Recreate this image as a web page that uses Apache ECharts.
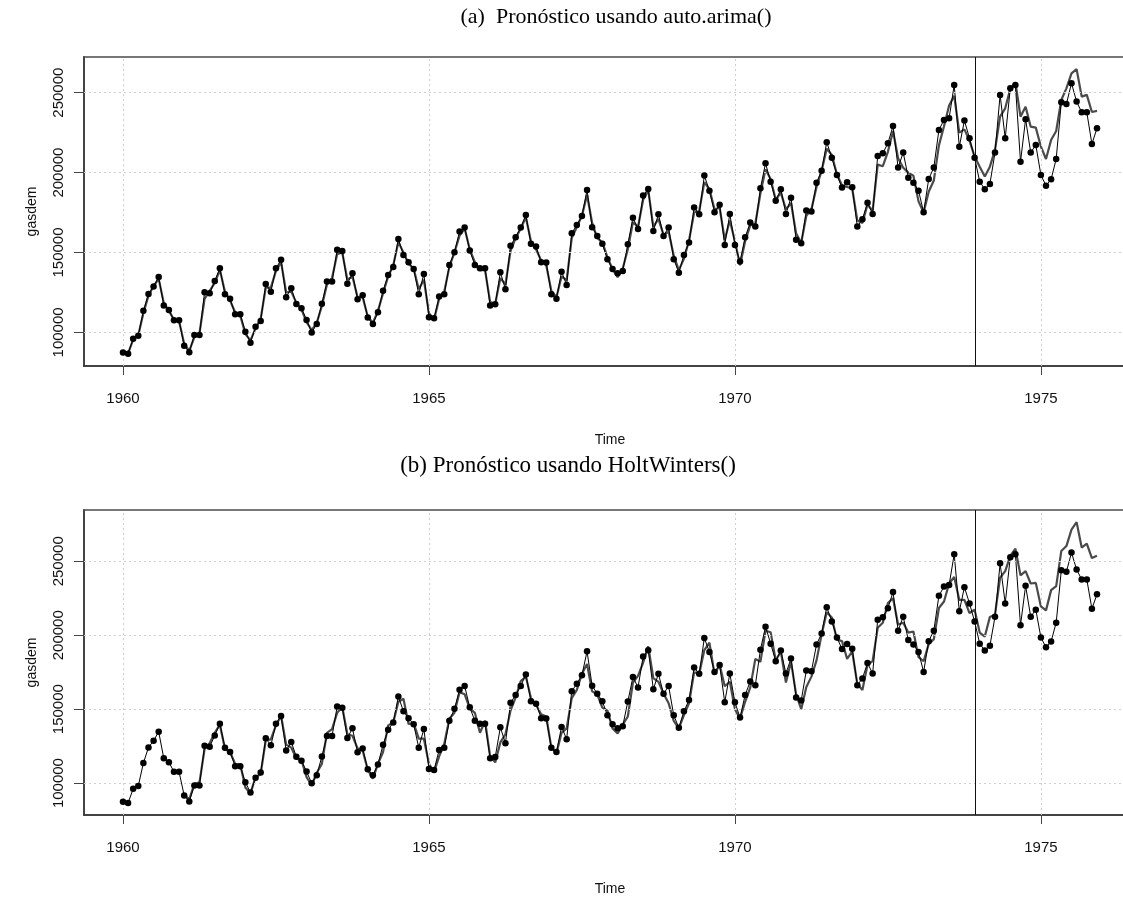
<!DOCTYPE html>
<html>
<head>
<meta charset="utf-8">
<script src="https://cdn.jsdelivr.net/npm/echarts@6/dist/echarts.min.js"></script>
<style>
html, body { margin: 0; padding: 0; background: #fff; overflow: hidden; }
#grafico { width: 1140px; height: 897px; }
</style>
</head>
<body>
<div id="grafico"></div>
<script>
// serie observada gasdem, mensual 1960-1975
var gasdem = [
	87400, 86600, 96100, 98000, 113500, 124100, 128700, 134700, 116800, 114100, 107600, 107600,
	91600, 87600, 98400, 98400, 125200, 124500, 132200, 140200, 123900, 121000, 111400, 111400,
	100500, 93600, 103600, 107200, 130300, 125500, 140200, 145400, 122000, 127700, 117800, 115100,
	107800, 99900, 105300, 118000, 131800, 131800, 151800, 151000, 130500, 137000, 120800, 123300,
	109300, 105300, 112600, 126000, 136000, 141000, 158500, 148500, 143900, 139700, 123900, 136600,
	109500, 108900, 122400, 123900, 142200, 150200, 163100, 165600, 151200, 142200, 140200, 140200,
	116800, 117600, 137700, 127000, 154300, 159600, 165600, 173500, 155400, 153700, 143900, 143700,
	123900, 121000, 138000, 129700, 162100, 167200, 172900, 189100, 165800, 160400, 155400, 145800,
	139700, 137000, 138500, 155200, 171800, 164700, 185600, 189800, 163500, 173900, 160400, 165600,
	145800, 137400, 148500, 156200, 178100, 173900, 198100, 188700, 175200, 179800, 154700, 174100,
	154700, 144300, 159600, 168700, 166200, 190200, 205800, 194300, 182400, 189600, 174100, 184300,
	157900, 155800, 176200, 175600, 193700, 201200, 219000, 209300, 198500, 190600, 194000, 190800,
	166200, 170800, 181200, 174100, 210400, 212100, 218300, 229200, 203100, 212500, 196800, 193700,
	188700, 175200, 196000, 203100, 226700, 232900, 234000, 254800, 216200, 232500, 221500, 209300,
	194300, 189600, 192900, 212500, 248600, 221500, 252800, 254800, 206800, 233400, 212500, 217300,
	198500, 191800, 195800, 208500, 244000, 242900, 255900, 244400, 237700, 237700, 217900, 227700
];

// (a) valores ajustados auto.arima, 1960-1973
var arimaAjuste = [
	87300, 86900, 95500, 98300, 112000, 123000, 129000, 133500, 118500, 113500, 108000, 107000,
	93000, 88500, 97000, 99500, 121000, 126000, 131000, 139000, 125500, 120000, 112500, 110500,
	99000, 95000, 102500, 108500, 128000, 128000, 138500, 144000, 125000, 125500, 118500, 114500,
	106500, 101500, 106000, 116500, 130000, 134000, 149000, 150000, 133000, 135000, 122000, 122000,
	110000, 106000, 113500, 124500, 135000, 142000, 156500, 150000, 143000, 140000, 127000, 133000,
	112000, 108000, 121000, 125500, 141000, 150000, 160500, 165000, 152000, 144000, 139000, 139000,
	119000, 118000, 134000, 130000, 151000, 159000, 165000, 172000, 157000, 152000, 145000, 142000,
	126000, 122000, 135000, 132500, 159000, 166000, 173000, 186000, 168500, 159000, 156500, 147000,
	139500, 134500, 140000, 152000, 169000, 166000, 183000, 189000, 166000, 171000, 161000, 163000,
	148000, 139000, 146000, 157500, 175000, 176000, 194000, 189500, 177000, 178000, 158000, 170000,
	157000, 142000, 157000, 167000, 168000, 187000, 202000, 196000, 183000, 187500, 177000, 181000,
	162000, 156000, 173000, 177000, 191000, 201000, 215000, 211000, 199000, 192000, 191000, 190000,
	170000, 168500, 180000, 176000, 205000, 204000, 213000, 226000, 209000, 203000, 200000, 198000,
	182000, 175000, 188000, 195000, 217000, 229000, 242000, 248000, 225000, 227000, 220000, 210000
];
// (a) pronostico 1974-1975
var arimaPronostico = [
	203700, 197500, 203700, 214200, 235000, 240200, 252500, 256400, 235000, 241200, 228700, 228100,
	216200, 208500, 220400, 226000, 245400, 252700, 262100, 264700, 247500, 248600, 237900, 238600
];

// (b) valores ajustados HoltWinters, 1961-1973
var hwAjuste = [
	92000, 89000, 99500, 100500, 123000, 127000, 134000, 139500, 123000, 121000, 113000, 112500,
	97000, 93000, 104000, 106000, 129000, 129500, 139000, 145500, 126000, 124000, 116500, 115500,
	104000, 98500, 107000, 113000, 134000, 136500, 147500, 151500, 133000, 132000, 123500, 122000,
	109000, 103000, 113000, 121000, 139000, 141000, 155000, 157000, 140000, 140500, 130000, 130000,
	113000, 107500, 118000, 126500, 143500, 147500, 161500, 160000, 150500, 147500, 134000, 142000,
	118000, 114000, 127500, 133000, 149000, 158000, 169000, 172000, 157500, 153000, 146500, 145000,
	124000, 120000, 134000, 137000, 157500, 163000, 174000, 180500, 162000, 160000, 151000, 149000,
	137000, 133500, 139500, 145000, 168000, 172500, 181500, 192500, 171000, 168500, 160500, 154000,
	142000, 137000, 146000, 154000, 175000, 174000, 190000, 195000, 173500, 180000, 165500, 168500,
	150000, 143500, 155000, 164500, 184000, 182000, 203000, 202000, 183000, 189000, 168000, 182000,
	160000, 150000, 165000, 172000, 183000, 200500, 215500, 212000, 197000, 196000, 184000, 189000,
	167000, 163000, 180000, 182500, 205000, 208400, 221700, 225000, 207300, 208400, 201800, 202500,
	185200, 182400, 194000, 197300, 218400, 222800, 235000, 239400, 223900, 223900, 215000, 217200
];
// (b) pronostico 1974-1975
var hwPronostico = [
	201800, 199100, 212400, 213900, 238900, 243400, 253700, 258600, 240500, 243400, 235000, 235400,
	219500, 216800, 230500, 233200, 257000, 260300, 271400, 276500, 259300, 261900, 252200, 253700
];

var marcasX = [1960, 1965, 1970, 1975];
var marcasY = [100000, 150000, 200000, 250000];
var corte = 1973 + 11 / 12;

//=================================================================================
// convierte un vector mensual en pares [tiempo, valor]
function serieTemporal(valores, inicio) {
	var out = [];
	for (var i = 0; i < valores.length; i++) {
		out.push([inicio + i / 12, valores[i]]);
	}
	return out;
}

var observado = serieTemporal(gasdem, 1960);
var lineaArima = serieTemporal(arimaAjuste, 1960).concat(serieTemporal(arimaPronostico, 1974));
var lineaHW = serieTemporal(hwAjuste, 1961).concat(serieTemporal(hwPronostico, 1974));

var fuenteEje = 'Liberation Sans, Arial, sans-serif';
var fuenteTitulo = 'Liberation Serif, Times New Roman, serif';

function ejeX(idx) {
	return {
		type: 'value', gridIndex: idx,
		min: 1959.363, max: 1976.554,
		name: 'Time', nameLocation: 'middle', nameGap: 67,
		nameTextStyle: { fontFamily: fuenteEje, fontSize: 14, color: '#111' },
		axisLine: { show: true, lineStyle: { color: '#333', width: 1.5 } },
		axisTick: { show: true, inside: false, length: 9, customValues: marcasX, lineStyle: { color: '#444' } },
		axisLabel: { customValues: marcasX, margin: 25, fontFamily: fuenteEje, fontSize: 15, color: '#111',
			formatter: function (v) { return String(v); } },
		splitLine: { show: false }
	};
}

function ejeY(idx, min, max) {
	return {
		type: 'value', gridIndex: idx,
		min: min, max: max,
		name: 'gasdem', nameLocation: 'middle', nameGap: 45, nameRotate: 90,
		nameTextStyle: { fontFamily: fuenteEje, fontSize: 14, color: '#111' },
		axisLine: { show: true, lineStyle: { color: '#333', width: 1.5 } },
		axisTick: { show: true, inside: false, length: 10, customValues: marcasY, lineStyle: { color: '#444' } },
		axisLabel: { customValues: marcasY, rotate: 90, margin: 18, align: 'center', verticalAlign: 'bottom',
			fontFamily: fuenteEje, fontSize: 15, color: '#111',
			formatter: function (v) { return String(v); } },
		splitLine: { show: false }
	};
}

// lineas de la rejilla punteada y la linea vertical del corte
function rejilla(idx) {
	var datos = [];
	for (var i = 0; i < marcasX.length; i++) datos.push({ xAxis: marcasX[i] });
	for (var j = 0; j < marcasY.length; j++) datos.push({ yAxis: marcasY[j] });
	datos.push({ xAxis: corte, lineStyle: { color: '#111', type: 'solid', width: 1 } });
	return {
		type: 'line', xAxisIndex: idx, yAxisIndex: idx, data: [], silent: true,
		markLine: {
			silent: true, symbol: ['none', 'none'], label: { show: false },
			lineStyle: { color: '#cfcfcf', type: [2, 3], width: 1 },
			animation: false,
			data: datos
		}
	};
}

// linea fina de la serie observada
function serieObs(idx) {
	return {
		type: 'line', xAxisIndex: idx, yAxisIndex: idx, data: observado,
		showSymbol: false,
		lineStyle: { color: '#000', width: 1 },
		z: 4
	};
}

// puntos de la serie observada
function puntosObs(idx) {
	return {
		type: 'scatter', xAxisIndex: idx, yAxisIndex: idx, data: observado,
		symbol: 'circle', symbolSize: 6.5,
		itemStyle: { color: '#000', opacity: 1 },
		z: 5
	};
}

function serieAjuste(idx, datos) {
	return {
		type: 'line', xAxisIndex: idx, yAxisIndex: idx, data: datos,
		showSymbol: false,
		lineStyle: { color: '#4a4a4a', width: 2.2 },
		z: 3
	};
}

var grafico = echarts.init(document.getElementById('grafico'));
grafico.setOption({
	animation: false,
	backgroundColor: '#fff',
	title: [
		{ text: '(a)  Pronóstico usando auto.arima()', left: 611, top: 1, textAlign: 'center',
			textStyle: { fontFamily: fuenteTitulo, fontWeight: 'normal', fontSize: 22, color: '#000' } },
		{ text: '(b) Pronóstico usando HoltWinters()', left: 563, top: 449, textAlign: 'center',
			textStyle: { fontFamily: fuenteTitulo, fontWeight: 'normal', fontSize: 23, color: '#000' } }
	],
	grid: [
		{ left: 84, top: 57, width: 1052, height: 309, show: true, borderColor: '#777', borderWidth: 2, backgroundColor: 'transparent' },
		{ left: 84, top: 510, width: 1052, height: 310, show: true, borderColor: '#777', borderWidth: 2, backgroundColor: 'transparent' }
	],
	xAxis: [ejeX(0), ejeX(1)],
	yAxis: [ejeY(0, 79000, 272300), ejeY(1, 78400, 284700)],
	series: [
		rejilla(0), serieAjuste(0, lineaArima), serieObs(0), puntosObs(0),
		rejilla(1), serieAjuste(1, lineaHW), serieObs(1), puntosObs(1)
	]
});
</script>
</body>
</html>
